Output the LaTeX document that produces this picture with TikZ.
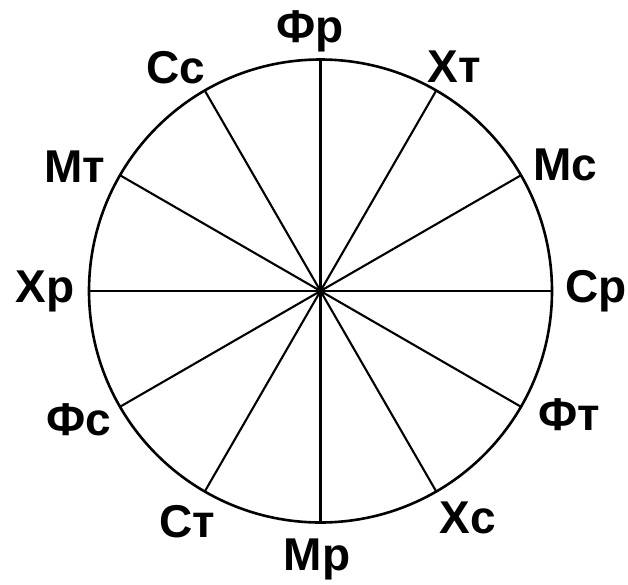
\documentclass[tikz,border=0pt]{standalone}
\usepackage{fontspec}
\setmainfont{Liberation Sans}
\usetikzlibrary{calc}
\begin{document}
\begin{tikzpicture}[x=1pt,y=-1pt,
  lbl/.style={font=\fontsize{46}{46}\selectfont\bfseries, anchor=base, inner sep=0pt},
  rim/.style={line width=2.6pt},
  spoke/.style={line width=2.1pt}]
\useasboundingbox[fill=white] (0,0) rectangle (628,584);
\coordinate (c) at (320.5,291);
\draw[rim] (c) circle [radius=231.5];
\foreach \a in {0,30,...,150}{
  \coordinate (p\a) at ($(c)+({231.5*sin(\a)},{-231.5*cos(\a)})$);
  \coordinate (q\a) at ($(c)+({-231.5*sin(\a)},{231.5*cos(\a)})$);
  \draw[spoke] (p\a) -- (q\a);
}
\fill (c) circle [radius=4];
\node[lbl] (fr) at (310,42) {Фр};
\node[lbl] (xt) at (454,82) {Хт};
\node[lbl] (ms) at (565,180) {Мс};
\node[lbl] (sr) at (596,302) {Ср};
\node[lbl] (ft) at (569,430) {Фт};
\node[lbl] (xs) at (468,533) {Хс};
\node[lbl] (mr) at (317,570) {Мр};
\node[lbl] (st) at (187,537) {Ст};
\node[lbl] (fs) at (79,435) {Фс};
\node[lbl] (xr) at (45,302) {Хр};
\node[lbl] (mt) at (75,182) {Мт};
\node[lbl] (ss) at (176,83) {Сс};
\end{tikzpicture}
\end{document}
